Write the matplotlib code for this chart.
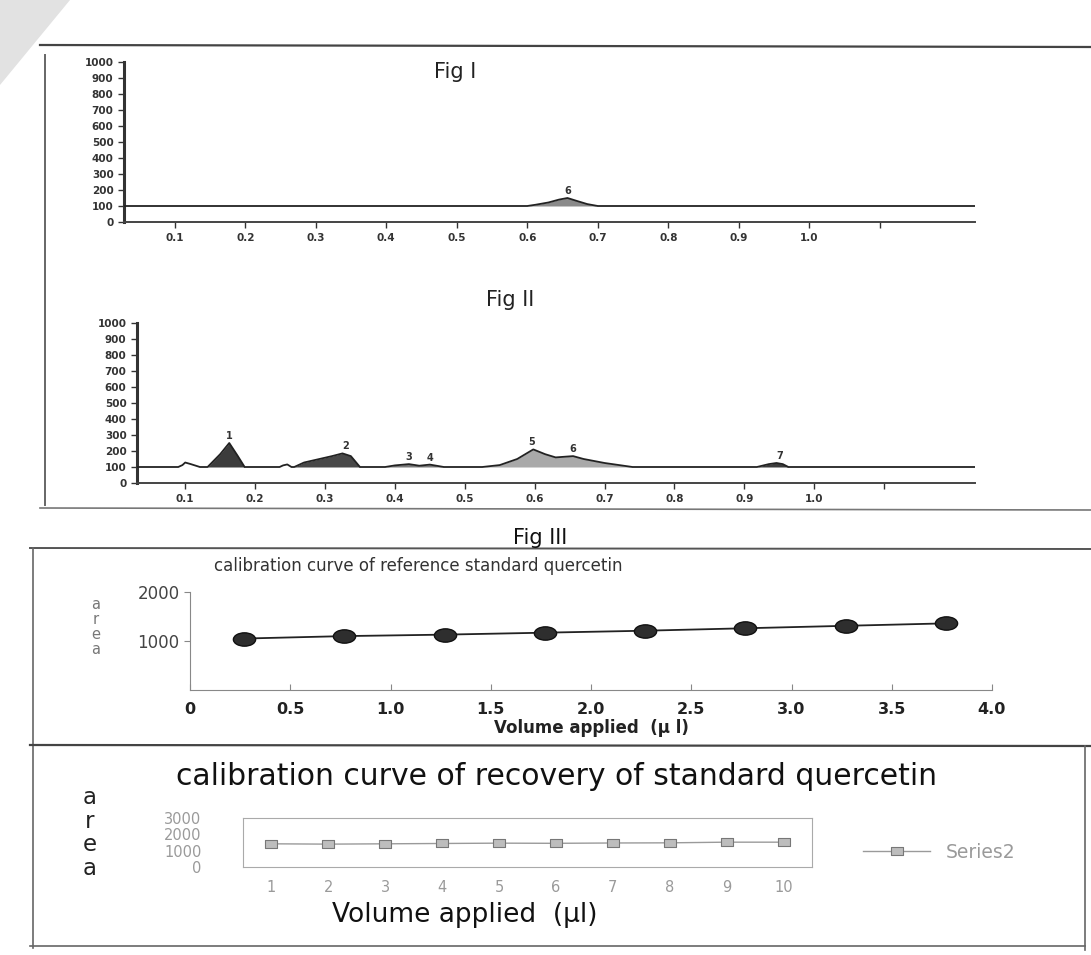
import numpy as np
import matplotlib
matplotlib.use("Agg")
import matplotlib.pyplot as plt
from matplotlib.path import Path
from matplotlib.lines import Line2D
from matplotlib.patches import Polygon

# ---------------- data ----------------
# Fig I : densitogram of reference track (Rf vs absorbance units)
FIG1_RF = [0.028, 0.600, 0.612, 0.630, 0.645, 0.657, 0.670, 0.685, 0.700, 1.235]
FIG1_AU = [100, 100, 108, 122, 140, 150, 132, 112, 100, 100]
FIG1_PEAK_LABELS = ["6"]
FIG1_PEAK_RF = [0.657]
FIG1_PEAK_AU = [150]

# Fig II : densitogram of sample track
FIG2_RF = [0.031, 0.090, 0.096, 0.100, 0.108, 0.121,
           0.132, 0.150, 0.163, 0.175, 0.185,
           0.235, 0.240, 0.246, 0.252,
           0.256, 0.270, 0.290, 0.310, 0.325, 0.337, 0.350,
           0.386, 0.400, 0.420, 0.435, 0.450, 0.470,
           0.525, 0.550, 0.575, 0.598, 0.615, 0.630, 0.655, 0.670, 0.700, 0.740,
           0.918, 0.935, 0.946, 0.955, 0.963, 1.230]
FIG2_AU = [100, 100, 112, 128, 118, 100,
           100, 180, 250, 170, 100,
           100, 110, 116, 100,
           100, 128, 148, 168, 185, 168, 100,
           100, 110, 118, 108, 115, 100,
           100, 112, 150, 210, 180, 160, 168, 150, 125, 100,
           100, 118, 125, 118, 100, 100]
FIG2_PEAK_LABELS = ["1", "2", "3", "4", "5", "6", "7"]
FIG2_PEAK_RF = [0.163, 0.330, 0.420, 0.450, 0.595, 0.655, 0.950]
FIG2_PEAK_AU = [250, 185, 118, 115, 210, 168, 125]

RF_TICKS = [0.1, 0.2, 0.3, 0.4, 0.5, 0.6, 0.7, 0.8, 0.9, 1.0, 1.1]
RF_TICK_LABELS = ["0.1", "0.2", "0.3", "0.4", "0.5", "0.6", "0.7", "0.8", "0.9", "1.0", ""]
AU_TICKS = [0, 100, 200, 300, 400, 500, 600, 700, 800, 900, 1000]

# Fig III : calibration curve of reference standard quercetin
VOL_REF = [0.27, 0.77, 1.27, 1.77, 2.27, 2.77, 3.27, 3.77]
AREA_REF = [1050, 1100, 1130, 1170, 1210, 1260, 1310, 1360]
VOL_TICKS = [0, 0.5, 1.0, 1.5, 2.0, 2.5, 3.0, 3.5, 4.0]
VOL_TICK_LABELS = ["0", "0.5", "1.0", "1.5", "2.0", "2.5", "3.0", "3.5", "4.0"]

# Fig IV : calibration curve of recovery of standard quercetin
VOL_REC = [1, 2, 3, 4, 5, 6, 7, 8, 9, 10]
AREA_REC = [1420, 1400, 1420, 1440, 1460, 1450, 1470, 1480, 1520, 1520]
REC_YTICKS = [0, 1000, 2000, 3000]
SERIES_NAME = "Series2"

# ---------------- layout helpers ----------------
W, H = 1091, 955
fig = plt.figure(figsize=(W / 100, H / 100), dpi=100)
fig.patch.set_facecolor("white")
plt.rcParams["font.family"] = ["DejaVu Sans"]


def px_axes(l, t, r, b):
    return fig.add_axes([l / W, 1 - b / H, (r - l) / W, (b - t) / H])


def ftext(x, y, s, **kw):
    return fig.text(x / W, 1 - y / H, s, **kw)


def fline(xs, ys, **kw):
    fig.add_artist(Line2D([x / W for x in xs], [1 - y / H for y in ys],
                          transform=fig.transFigure, **kw))


# scan shadow and page frame lines
fig.add_artist(Polygon([[0, 1], [70 / W, 1], [0, 1 - 85 / H]], closed=True,
                       transform=fig.transFigure, facecolor="#e2e2e2",
                       edgecolor="none"))
fline([40, 1091], [45, 47], color="#444444", lw=1.6)
fline([45, 45], [55, 505], color="#666666", lw=1.4)
fline([40, 1091], [508, 510], color="#777777", lw=1.2)
fline([30, 1091], [548, 549], color="#555555", lw=1.4)
fline([33, 33], [548, 948], color="#666666", lw=1.2)
fline([30, 1091], [745, 746], color="#444444", lw=1.6)
fline([30, 1085], [946, 946], color="#666666", lw=1.2)
fline([1085, 1085], [746, 950], color="#666666", lw=1.2)


def densitogram(ax, rf, au, labels, lrf, lau, fills, xlim):
    rf = np.asarray(rf, float)
    au = np.asarray(au, float)
    # find peak segments (runs above the baseline) and shade each
    above = au > 100
    seg = 0
    i = 0
    n = len(au)
    while i < n:
        if above[i]:
            j = i
            while j < n and above[j]:
                j += 1
            sl = slice(max(i - 1, 0), min(j + 1, n))
            ax.fill_between(rf[sl], 100, au[sl], color=fills[seg % len(fills)],
                            lw=0, zorder=2)
            seg += 1
            i = j
        else:
            i += 1
    ax.plot(rf, au, color="#222222", lw=1.3, zorder=3)
    for s, x, y in zip(labels, lrf, lau):
        ax.text(x, y + 12, s, ha="center", va="bottom", fontsize=7,
                fontweight="bold", color="#333333")
    ax.set_xlim(*xlim)
    ax.set_ylim(0, 1000)
    ax.set_xticks(RF_TICKS)
    ax.set_xticklabels(RF_TICK_LABELS)
    ax.set_yticks(AU_TICKS)
    ax.set_yticklabels([str(v) for v in AU_TICKS])
    for s in ("top", "right"):
        ax.spines[s].set_visible(False)
    ax.spines["left"].set_linewidth(2.2)
    ax.spines["left"].set_color("#333333")
    ax.spines["bottom"].set_linewidth(1.4)
    ax.spines["bottom"].set_color("#444444")
    ax.tick_params(axis="both", labelsize=7.5, colors="#333333", length=4,
                   width=1)
    ax.tick_params(axis="x", pad=4)
    for t in ax.get_xticklabels() + ax.get_yticklabels():
        t.set_fontweight("bold")
    ax.patch.set_alpha(0)


# ---------------- Fig I ----------------
ax1 = px_axes(124, 62, 975, 222)
densitogram(ax1, FIG1_RF, FIG1_AU, FIG1_PEAK_LABELS, FIG1_PEAK_RF,
            FIG1_PEAK_AU, ["#8a8a8a"], (0.028, 1.235))
ftext(455, 72, "Fig I", fontsize=15, ha="center", va="center", color="#222222")

# ---------------- Fig II ----------------
ax2 = px_axes(137, 323, 975, 483)
densitogram(ax2, FIG2_RF, FIG2_AU, FIG2_PEAK_LABELS, FIG2_PEAK_RF,
            FIG2_PEAK_AU,
            ["white", "#3c3c3c", "white", "#484848", "#7a7a7a", "#a9a9a9",
             "#3c3c3c"], (0.031, 1.23))
ftext(510, 300, "Fig II", fontsize=15, ha="center", va="center", color="#222222")

# ---------------- Fig III ----------------
ftext(540, 538, "Fig III", fontsize=15, ha="center", va="center", color="#111111")
ftext(418, 566, "calibration curve of reference standard quercetin",
      fontsize=12, ha="center", va="center", color="#333333")

circ = Path.unit_circle()
ell = Path(circ.vertices * np.array([1.0, 0.6]), circ.codes)

ax3 = px_axes(190, 592, 992, 690)
ax3.plot(VOL_REF, AREA_REF, color="#222222", lw=1.3, marker=ell,
         markersize=16, markerfacecolor="#2e2e2e", markeredgecolor="#111111",
         markeredgewidth=1)
ax3.set_xlim(0, 4.0)
ax3.set_ylim(0, 2000)
ax3.set_xticks(VOL_TICKS)
ax3.set_xticklabels(VOL_TICK_LABELS)
ax3.set_yticks([1000, 2000])
ax3.set_yticklabels(["1000", "2000"])
for s in ("top", "right"):
    ax3.spines[s].set_visible(False)
ax3.spines["left"].set_color("#888888")
ax3.spines["bottom"].set_color("#888888")
ax3.spines["left"].set_linewidth(0.8)
ax3.spines["bottom"].set_linewidth(0.8)
ax3.tick_params(axis="y", labelsize=12, colors="#888888", labelcolor="#444444",
                length=4, width=0.8)
ax3.tick_params(axis="x", labelsize=11.5, colors="#888888", labelcolor="#222222",
                length=4, width=0.8, direction="in", pad=9)
for t in ax3.get_xticklabels():
    t.set_fontweight("bold")
ax3.set_xlabel("Volume applied  (\u03bc l)", fontsize=12, fontweight="bold",
               color="#222222", labelpad=1)
ftext(96, 627, "a\nr\ne\na", fontsize=10.5, ha="center", va="center",
      color="#777777", linespacing=1.0)

# ---------------- Fig IV ----------------
ftext(556, 776, "calibration curve of recovery of standard quercetin",
      fontsize=21.5, ha="center", va="center", color="#111111")
sq = Path(np.array([[-1, -0.7], [1, -0.7], [1, 0.7], [-1, 0.7], [-1, -0.7]]),
          [Path.MOVETO, Path.LINETO, Path.LINETO, Path.LINETO, Path.CLOSEPOLY])
ax4 = px_axes(243, 818, 812, 867)
ax4.plot(VOL_REC, AREA_REC, color="#9a9a9a", lw=1.0, marker=sq, markersize=8,
         markerfacecolor="#bdbdbd", markeredgecolor="#777777",
         markeredgewidth=0.8, label=SERIES_NAME)
ax4.set_xlim(0.5, 10.5)
ax4.set_ylim(0, 3000)
ax4.set_xticks(VOL_REC)
ax4.set_xticklabels([str(v) for v in VOL_REC])
ax4.set_yticks(REC_YTICKS)
ax4.set_yticklabels([str(v) for v in REC_YTICKS])
for s in ax4.spines.values():
    s.set_color("#aaaaaa")
    s.set_linewidth(0.8)
ax4.tick_params(axis="both", length=0, labelsize=10.5, labelcolor="#9a9a9a")
ax4.tick_params(axis="x", pad=9)
ax4.tick_params(axis="y", pad=30)
ax4.set_xlabel("Volume applied  (\u03bcl)", fontsize=19, color="#111111",
               labelpad=5)
ax4.xaxis.set_label_coords((465 - 243) / (812 - 243), -0.72)
ftext(90, 833, "a\nr\ne\na", fontsize=16.5, ha="center", va="center",
      color="#222222", linespacing=1.05)
leg = fig.legend(handles=ax4.get_lines(), labels=[SERIES_NAME],
                 loc="center left", bbox_to_anchor=(846 / W, 1 - 852 / H),
                 frameon=False, fontsize=13.5, handlelength=3.6,
                 handletextpad=0.8)
for t in leg.get_texts():
    t.set_color("#9a9a9a")

fig.savefig("out.png", dpi=100, facecolor="white")
